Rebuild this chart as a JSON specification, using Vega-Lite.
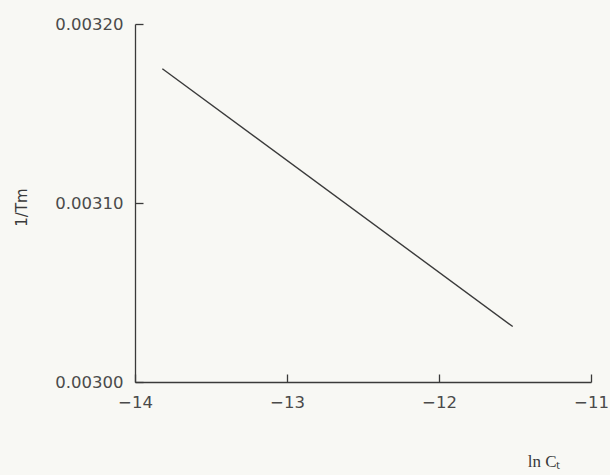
{
  "$schema": "https://vega.github.io/schema/vega-lite/v6.json",
  "autosize": "none",
  "width": 456,
  "height": 358,
  "padding": {"left": 135, "top": 24, "right": 19, "bottom": 93},
  "background": "#f8f8f4",
  "config": {
    "view": {"stroke": null},
    "axis": {
      "grid": true,
      "gridColor": "#3a3a3a",
      "gridWidth": 1.3,
      "gridOpacity": 1,
      "ticks": false,
      "domainColor": "#3a3a3a",
      "domainWidth": 1.3,
      "labelFont": "DejaVu Sans",
      "labelFontSize": 16.5,
      "labelColor": "#4a4a4a",
      "titleFontWeight": "normal",
      "titleColor": "#3a3a3a"
    }
  },
  "data": {
    "values": [
      {"lnCT": -13.82, "invTm": 0.003175},
      {"lnCT": -11.515, "invTm": 0.003031}
    ]
  },
  "mark": {"type": "line", "color": "#3a3a3a", "strokeWidth": 1.4},
  "encoding": {
    "x": {
      "field": "lnCT",
      "type": "quantitative",
      "scale": {"domain": [-14, -11], "nice": false, "zero": false},
      "axis": {
        "values": [-14, -13, -12, -11],
        "format": "d",
        "gridDash": [8, 350],
        "gridDashOffset": 8,
        "labelFlush": false,
        "labelPadding": 12,
        "title": "ln Cₜ",
        "titleFont": "Liberation Serif",
        "titleFontSize": 17,
        "titleAnchor": "end",
        "titleAlign": "right",
        "titleX": 425,
        "titleY": 84,
        "titleBaseline": "alphabetic"
      }
    },
    "y": {
      "field": "invTm",
      "type": "quantitative",
      "scale": {"domain": [0.003, 0.0032], "nice": false, "zero": false},
      "axis": {
        "values": [0.003, 0.0031, 0.0032],
        "format": ".5f",
        "gridDash": [8, 2000],
        "labelFlush": false,
        "labelPadding": 12,
        "title": "1/Tm",
        "titleFont": "DejaVu Sans",
        "titleFontSize": 15,
        "titleX": -114,
        "titleY": 183,
        "titleAngle": -90,
        "titleAlign": "center",
        "titleBaseline": "middle"
      }
    }
  }
}
